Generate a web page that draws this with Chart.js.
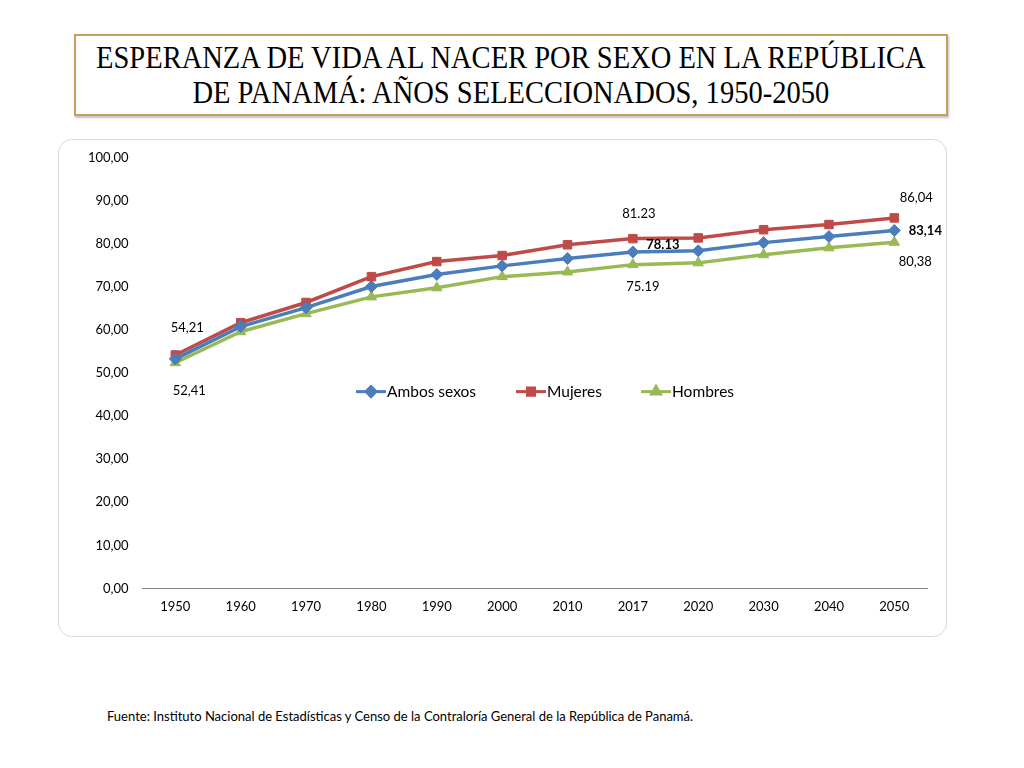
<!DOCTYPE html>
<html>
<head>
<meta charset="utf-8">
<script src="https://cdn.jsdelivr.net/npm/chart.js@4/dist/chart.umd.min.js"></script>
<style>
  html, body { margin: 0; padding: 0; background: #fff; }
  body { width: 1024px; height: 768px; position: relative; overflow: hidden; font-family: Lato, "Open Sans", sans-serif; }
  .title-box {
    position: absolute; left: 74px; top: 34px; width: 870px; height: 78px;
    border: 2.5px solid #C4A05A; box-shadow: 1px 2px 2px rgba(0,0,0,0.25);
    display: flex; align-items: center; justify-content: center;
  }
  .title-box h1 {
    margin: 0; font-family: "Liberation Serif", "DejaVu Serif", serif; font-weight: normal;
    font-size: 31px; line-height: 35px; text-align: center; color: #000;
    white-space: nowrap; transform: scaleX(0.92);
  }
  .chart-box {
    position: absolute; left: 58px; top: 139px; width: 887px; height: 496px;
    border: 1.5px solid #d9d9d9; border-radius: 14px;
  }
  .chart-box canvas { position: absolute; left: 0; top: -4px; }
  .source { position: absolute; left: 107px; top: 708px; font-size: 13px; color: #000; }
</style>
</head>
<body>
<div class="title-box"><h1>ESPERANZA DE VIDA AL NACER POR SEXO EN LA REPÚBLICA<br>DE PANAMÁ: AÑOS SELECCIONADOS, 1950-2050</h1></div>
<div class="chart-box"><canvas id="c" width="887" height="500"></canvas></div>
<div class="source">Fuente: Instituto Nacional de Estadísticas y Censo de la Contraloría General de la República de Panamá.</div>
<script>
const years = ['1950', '1960', '1970', '1980', '1990', '2000', '2010', '2017', '2020', '2030', '2040', '2050'];
const ambosSexos = [53.3, 60.8, 65.2, 70.1, 72.9, 74.9, 76.6, 78.13, 78.4, 80.3, 81.7, 83.14];
const mujeres = [54.21, 61.7, 66.4, 72.4, 75.9, 77.3, 79.8, 81.23, 81.4, 83.3, 84.5, 86.04];
const hombres = [52.41, 59.6, 63.8, 67.7, 69.8, 72.4, 73.5, 75.19, 75.6, 77.5, 79.1, 80.38];
const seriesNames = ['Ambos sexos', 'Mujeres', 'Hombres'];
const yTicks = [0, 10, 20, 30, 40, 50, 60, 70, 80, 90, 100];

const colors = ['#4A7EBB', '#BE4B48', '#98B954'];
const markers = ['rectRot', 'rect', 'triangle'];

// which points get a value label: [dataset, index, decimal sep, dx, dy, bold]
const valueLabels = [
  [1, 0, ',', 12, -27, false],
  [2, 0, ',', 14, 28, false],
  [1, 7, '.', 6, -25, false],
  [0, 7, '.', 30, -7, true],
  [2, 7, '.', 10, 22, false],
  [1, 11, ',', 22, -20, false],
  [0, 11, ',', 31, 0, true],
  [2, 11, ',', 21, 20, false]
];

const fmt = (v, sep) => v.toFixed(2).replace('.', sep);

const labelPlugin = {
  id: 'valueLabels',
  afterDatasetsDraw(chart) {
    const ctx = chart.ctx;
    ctx.save();
    ctx.textAlign = 'center';
    ctx.textBaseline = 'middle';
    ctx.fillStyle = '#000';
    valueLabels.forEach(([d, i, sep, dx, dy, bold]) => {
      const pt = chart.getDatasetMeta(d).data[i];
      ctx.font = (bold ? 'bold ' : '') + '13px Lato, "Open Sans", sans-serif';
      ctx.fillText(fmt(chart.data.datasets[d].data[i], sep), pt.x + dx, pt.y + dy);
    });
    ctx.restore();
  }
};

// legend drawn inside the plot area, like the original
const legendPlugin = {
  id: 'innerLegend',
  afterDraw(chart) {
    const ctx = chart.ctx;
    const y = chart.scales.y.getPixelForValue(45.7);
    const starts = [297, 457, 582];
    ctx.save();
    ctx.font = '15.5px Lato, "Open Sans", sans-serif';
    ctx.textBaseline = 'middle';
    chart.data.datasets.forEach((ds, k) => {
      const x0 = starts[k];
      ctx.strokeStyle = ds.borderColor;
      ctx.lineWidth = 3;
      ctx.beginPath(); ctx.moveTo(x0, y); ctx.lineTo(x0 + 30, y); ctx.stroke();
      ctx.fillStyle = ds.backgroundColor;
      ctx.strokeStyle = ds.borderColor;
      Chart.helpers.drawPoint(ctx, { pointStyle: ds.pointStyle, radius: 5, borderWidth: 1 }, x0 + 15, y);
      ctx.fillStyle = '#000';
      ctx.fillText(ds.label, x0 + 31, y);
    });
    ctx.restore();
  }
};

const seriesData = [ambosSexos, mujeres, hombres];

new Chart(document.getElementById('c'), {
  type: 'line',
  data: {
    labels: years,
    datasets: seriesData.map((d, k) => ({
      label: seriesNames[k],
      data: d,
      borderColor: colors[k],
      backgroundColor: colors[k],
      borderWidth: 3.5,
      pointStyle: markers[k],
      pointRadius: 6,
      pointHoverRadius: 6,
      pointBorderWidth: 1,
      tension: 0
    }))
  },
  options: {
    responsive: false,
    animation: false,
    layout: { padding: { left: 15, right: 19, top: 0, bottom: 10 } },
    plugins: { legend: { display: false }, tooltip: { enabled: false } },
    scales: {
      x: {
        offset: true,
        grid: { display: false, drawTicks: false },
        border: { color: '#868686', width: 1 },
        ticks: { color: '#000', font: { size: 13, family: 'Lato' }, padding: 11 }
      },
      y: {
        min: 0, max: 100,
        afterBuildTicks: (s) => { s.ticks = yTicks.map(v => ({ value: v })); },
        grid: { display: false, drawTicks: false },
        border: { display: false },
        ticks: {
          color: '#000', font: { size: 13, family: 'Lato' }, padding: 14,
          callback: (v) => fmt(v, ',')
        }
      }
    }
  },
  plugins: [labelPlugin, legendPlugin]
});
</script>
</body>
</html>
